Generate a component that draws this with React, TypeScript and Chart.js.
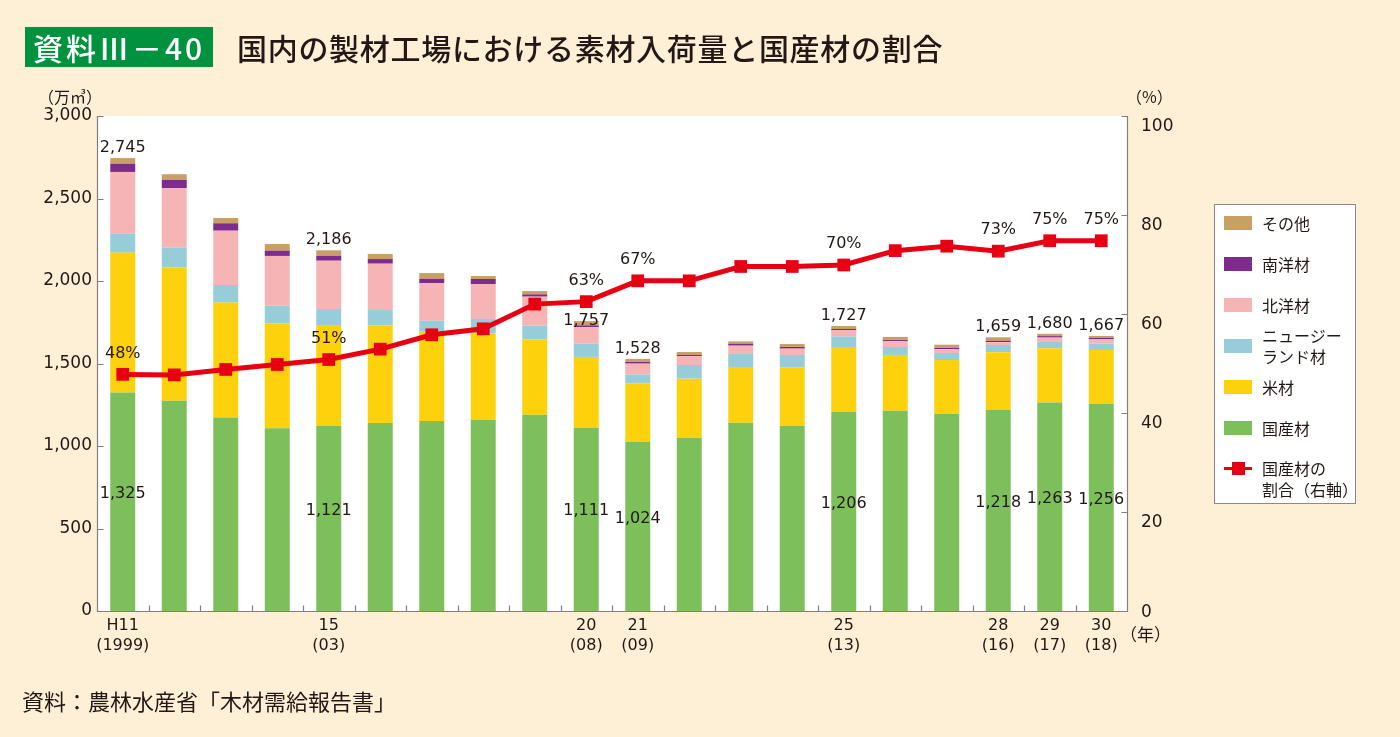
import React, { useEffect, useRef } from 'react';
import { Chart, registerables } from 'chart.js';

Chart.register(...registerables);

// ---- data ----
const xLabels: (string | string[])[] = [
  ['H11', '(1999)'], '', '', '', ['15', '(03)'], '', '', '', '', ['20', '(08)'],
  ['21', '(09)'], '', '', '', ['25', '(13)'], '', '', ['28', '(16)'], ['29', '(17)'], ['30', '(18)'],
];
const domestic = [1325, 1275, 1172, 1107, 1121, 1139, 1152, 1158, 1190, 1111, 1024, 1050, 1141, 1123, 1206, 1214, 1194, 1218, 1263, 1256];
const american = [847, 806, 697, 637, 612, 593, 541, 525, 457, 429, 354, 358, 338, 354, 394, 338, 327, 350, 330, 326];
const newZealand = [115, 123, 107, 106, 97, 92, 66, 87, 82, 80, 56, 83, 79, 75, 64, 48, 43, 44, 38, 38];
const northSea = [374, 358, 329, 302, 293, 281, 229, 210, 176, 101, 65, 53, 50, 38, 37, 34, 24, 18, 26, 26];
const southSea = [50, 50, 45, 32, 30, 28, 26, 32, 14, 10, 10, 8, 12, 10, 8, 8, 6, 8, 9, 9];
const others = [34, 35, 32, 40, 33, 31, 34, 18, 20, 26, 19, 18, 14, 18, 18, 19, 20, 21, 14, 12];
const domesticShare = [47.8, 47.7, 48.8, 49.8, 50.8, 52.9, 55.8, 57.0, 62.0, 62.5, 66.7, 66.7, 69.6, 69.6, 69.9, 72.8, 73.7, 72.7, 74.8, 74.8];
const labeledIdx = [0, 4, 9, 10, 14, 17, 18, 19];
const leftTicks = [0, 500, 1000, 1500, 2000, 2500, 3000];
const rightTicks = [0, 20, 40, 60, 80, 100];

// ---- styles ----
const C = {
  others: '#C9A063',
  south: '#7D2C8E',
  north: '#F6B4B4',
  nz: '#97CCD9',
  american: '#FDD20C',
  domestic: '#7DC05B',
  line: '#E60012',
  text: '#231815',
  axis: '#808080',
  bg: '#FDF0D6',
};
const NUM_FONT = '"DejaVu Sans", sans-serif';
const JP_FONT = '"Noto Sans CJK JP", sans-serif';

const fmt = (v: number) => v.toLocaleString('en-US');

const decorPlugin = {
  id: 'decor',
  beforeDraw(chart: any) {
    const { ctx, chartArea: a } = chart;
    ctx.save();
    ctx.fillStyle = '#ffffff';
    ctx.fillRect(a.left, a.top, a.right - a.left, a.bottom - a.top);
    ctx.restore();
  },
  afterDatasetsDraw(chart: any) {
    const { ctx, chartArea: a, scales } = chart;
    const x = scales.x, y = scales.y, y2 = scales.y2;
    ctx.save();
    // axis lines
    ctx.strokeStyle = C.axis;
    ctx.lineWidth = 1.2;
    const L = Math.round(a.left) + 0.5, R = Math.round(a.right) + 0.5, B = Math.round(a.bottom) + 0.5, T = Math.round(a.top);
    ctx.beginPath();
    ctx.moveTo(L, T); ctx.lineTo(L, B); ctx.lineTo(R, B); ctx.lineTo(R, T);
    ctx.stroke();
    // inward ticks
    ctx.beginPath();
    leftTicks.forEach((v) => {
      const py = Math.round(y.getPixelForValue(v)) + 0.5;
      ctx.moveTo(L, py); ctx.lineTo(L + 6, py);
    });
    rightTicks.forEach((v) => {
      const py = Math.round(y2.getPixelForValue(v)) + 0.5;
      ctx.moveTo(R, py); ctx.lineTo(R - 6, py);
    });
    for (let i = 1; i < xLabels.length; i++) {
      const px = Math.round((x.getPixelForValue(i - 1) + x.getPixelForValue(i)) / 2) + 0.5;
      ctx.moveTo(px, B); ctx.lineTo(px, B - 6);
    }
    ctx.stroke();

    // right axis labels
    ctx.fillStyle = C.text;
    ctx.font = `17px ${NUM_FONT}`;
    ctx.textAlign = 'left';
    ctx.textBaseline = 'middle';
    rightTicks.forEach((v) => {
      const py = y2.getPixelForValue(v) + (v === 0 ? 2 : 11);
      ctx.fillText(String(v), a.right + 14, py);
    });

    // data labels
    ctx.font = `16px ${NUM_FONT}`;
    ctx.textAlign = 'center';
    labeledIdx.forEach((i) => {
      const px = x.getPixelForValue(i);
      const total = domestic[i] + american[i] + newZealand[i] + northSea[i] + southSea[i] + others[i];
      const lift = i === 9 ? 0 : 10;
      ctx.fillText(fmt(total), px, y.getPixelForValue(total) - lift);
      ctx.fillText(fmt(domestic[i]), px, y.getPixelForValue(domestic[i] / 2) - 8);
      ctx.fillText(`${Math.round(domesticShare[i])}%`, px, y2.getPixelForValue(domesticShare[i]) - 21);
    });
    ctx.restore();
  },
};

const legendItems = [
  { label: ['その他'], color: C.others, cy: 223 },
  { label: ['南洋材'], color: C.south, cy: 264 },
  { label: ['北洋材'], color: C.north, cy: 305 },
  { label: ['ニュージー', 'ランド材'], color: C.nz, cy: 346 },
  { label: ['米材'], color: C.american, cy: 387 },
  { label: ['国産材'], color: C.domestic, cy: 428 },
];

export default function App() {
  const ref = useRef<HTMLCanvasElement | null>(null);

  useEffect(() => {
    document.body.style.margin = '0';
    const barCommon = {
      type: 'bar' as const,
      yAxisID: 'y',
      stack: 's',
      barPercentage: 0.485,
      categoryPercentage: 1,
      borderWidth: 0,
      order: 1,
    };
    const chart = new Chart(ref.current as HTMLCanvasElement, {
      type: 'bar',
      data: {
        labels: xLabels as any,
        datasets: [
          {
            type: 'line',
            label: '国産材の割合（右軸）',
            data: domesticShare,
            yAxisID: 'y2',
            borderColor: C.line,
            backgroundColor: C.line,
            borderWidth: 5,
            pointStyle: 'rect',
            pointRadius: 9,
            pointBorderWidth: 0,
            pointBackgroundColor: C.line,
            order: 0,
          } as any,
          { ...barCommon, label: '国産材', data: domestic, backgroundColor: C.domestic },
          { ...barCommon, label: '米材', data: american, backgroundColor: C.american },
          { ...barCommon, label: 'ニュージーランド材', data: newZealand, backgroundColor: C.nz },
          { ...barCommon, label: '北洋材', data: northSea, backgroundColor: C.north },
          { ...barCommon, label: '南洋材', data: southSea, backgroundColor: C.south },
          { ...barCommon, label: 'その他', data: others, backgroundColor: C.others },
        ],
      },
      options: {
        animation: false,
        responsive: false,
        maintainAspectRatio: false,
        layout: { padding: { top: 116, left: 0, right: 0, bottom: 0 } },
        plugins: { legend: { display: false }, tooltip: { enabled: false } },
        scales: {
          x: {
            type: 'category',
            stacked: true,
            offset: true,
            grid: { display: false, drawTicks: false },
            border: { display: false },
            ticks: {
              autoSkip: false,
              maxRotation: 0,
              minRotation: 0,
              padding: 5,
              color: C.text,
              font: { family: NUM_FONT, size: 16, lineHeight: 1.25 },
            },
            afterFit: (s: any) => { s.height = 126; },
          },
          y: {
            type: 'linear',
            position: 'left',
            stacked: true,
            min: 0,
            max: 3000,
            grid: { display: false, drawTicks: false },
            border: { display: false },
            ticks: {
              stepSize: 500,
              padding: 5,
              color: C.text,
              font: { family: NUM_FONT, size: 17 },
              callback: (v: any) => fmt(Number(v)),
            },
            afterFit: (s: any) => { s.width = 97; },
          },
          y2: {
            type: 'linear',
            position: 'right',
            min: 0,
            max: 100,
            grid: { display: false, drawTicks: false },
            border: { display: false },
            ticks: { display: false, stepSize: 20 },
            afterFit: (s: any) => { s.width = 273; },
          },
        },
      } as any,
      plugins: [decorPlugin],
    });
    return () => chart.destroy();
  }, []);

  const abs = (extra: React.CSSProperties): React.CSSProperties => ({
    position: 'absolute',
    fontFamily: JP_FONT,
    color: C.text,
    whiteSpace: 'nowrap',
    ...extra,
  });

  return (
    <div style={{ position: 'relative', width: 1400, height: 737, background: C.bg, overflow: 'hidden' }}>
      <canvas ref={ref} width={1400} height={737} style={{ position: 'absolute', left: 0, top: 0, width: 1400, height: 737 }} />
      {/* title badge */}
      <div style={abs({ left: 25, top: 27, width: 188, height: 40, background: '#00923F', color: '#fff', fontSize: 30, lineHeight: '40px', textAlign: 'center', fontWeight: 500, letterSpacing: 3 })}>
        資料Ⅲ－40
      </div>
      <div style={abs({ left: 237, top: 29, fontSize: 30, lineHeight: '36px', fontWeight: 500, letterSpacing: 0.7 })}>
        国内の製材工場における素材入荷量と国産材の割合
      </div>
      {/* axis units */}
      <div style={abs({ left: 38, top: 85, fontSize: 16, lineHeight: '22px' })}>（万㎥）</div>
      <div style={abs({ left: 1126, top: 85, fontSize: 16, lineHeight: '22px' })}>（%）</div>
      <div style={abs({ left: 1120, top: 622, fontSize: 17, lineHeight: '24px' })}>（年）</div>
      {/* source */}
      <div style={abs({ left: 22, top: 686, fontSize: 22, lineHeight: '28px' })}>資料：農林水産省「木材需給報告書」</div>
      {/* legend */}
      <div style={{ position: 'absolute', left: 1214, top: 204, width: 142, height: 300, background: '#fff', border: '1px solid #8a8a8a', boxSizing: 'border-box' }} />
      {legendItems.map((it) => (
        <React.Fragment key={it.label.join('')}>
          <div style={{ position: 'absolute', left: 1224, top: it.cy - 7, width: 28, height: 14, background: it.color }} />
          <div style={abs({ left: 1262, top: it.cy - (it.label.length * 21) / 2, fontSize: 16, lineHeight: '21px' })}>
            {it.label.map((l) => (<div key={l}>{l}</div>))}
          </div>
        </React.Fragment>
      ))}
      <div style={{ position: 'absolute', left: 1224, top: 467, width: 28, height: 3, background: C.line }} />
      <div style={{ position: 'absolute', left: 1232, top: 462, width: 13, height: 13, background: C.line }} />
      <div style={abs({ left: 1262, top: 458, fontSize: 16, lineHeight: '21px' })}>
        <div>国産材の</div>
        <div>割合（右軸）</div>
      </div>
    </div>
  );
}
